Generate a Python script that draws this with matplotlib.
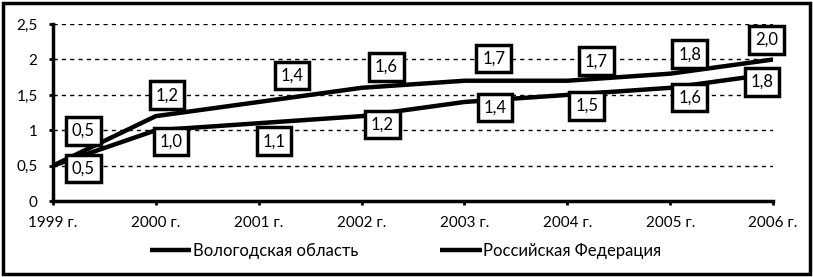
import matplotlib.pyplot as plt
import numpy as np

plt.rcParams['font.family'] = ['Lato', 'DejaVu Sans']

years = ['1999 г.', '2000 г.', '2001 г.', '2002 г.', '2003 г.', '2004 г.', '2005 г.', '2006 г.']
vologda = [0.5, 1.0, 1.1, 1.2, 1.4, 1.5, 1.6, 1.8]
russia = [0.5, 1.2, 1.4, 1.6, 1.7, 1.7, 1.8, 2.0]

# label offsets in points (style only)
off_russia = [(22, 25), (8, 15), (24, 19), (18, 15), (21, 16), (21, 14), (14, 14), (-5, 14)]
off_vologda = [(22, -2), (11, -8), (11, -13), (15, -6), (22, -4), (14, -8), (14, -7), (-8, -6)]

fig = plt.figure(figsize=(8.13, 2.77), dpi=100)
ax = fig.add_axes([0.065, 0.274, 0.886, 0.639])

x = np.arange(len(years))
ax.plot(x, vologda, color='black', lw=3.2, label='Вологодская область', solid_capstyle='butt')
ax.plot(x, russia, color='black', lw=3.2, label='Российская Федерация', solid_capstyle='butt')

box = dict(boxstyle='square,pad=0.35', fc='white', ec='black', lw=2.5)
for i in range(len(x)):
    ax.annotate(f'{russia[i]:.1f}'.replace('.', ','), (x[i], russia[i]),
                xytext=off_russia[i], textcoords='offset points',
                ha='center', va='center', fontsize=12, bbox=box)
    ax.annotate(f'{vologda[i]:.1f}'.replace('.', ','), (x[i], vologda[i]),
                xytext=off_vologda[i], textcoords='offset points',
                ha='center', va='center', fontsize=12, bbox=box)

ax.set_xlim(0, len(years) - 1)
ax.set_ylim(0, 2.5)
ax.set_xticks(x)
ax.set_xticklabels(years, fontsize=11)
yt = [0, 0.5, 1, 1.5, 2, 2.5]
ax.set_yticks(yt)
ax.set_yticklabels(['0', '0,5', '1', '1,5', '2', '2,5'], fontsize=11)
ax.tick_params(axis='both', direction='out', length=3, width=2, pad=8)
ax.yaxis.grid(True, linestyle=(0, (3, 3)), color='black', lw=1)
ax.set_axisbelow(True)
for s in ['top', 'right']:
    ax.spines[s].set_visible(False)
for s in ['left', 'bottom']:
    ax.spines[s].set_linewidth(2.5)

fig.legend(loc='center', bbox_to_anchor=(0.499, 0.095), ncol=2, frameon=False,
           fontsize=12, handlelength=2.5, handletextpad=0.1, columnspacing=4.9)

fig.patches.append(plt.Rectangle((0.004, 0.01), 0.992, 0.98, transform=fig.transFigure,
                                 fill=False, ec='black', lw=2.5))

fig.savefig('out.png', dpi=100)
